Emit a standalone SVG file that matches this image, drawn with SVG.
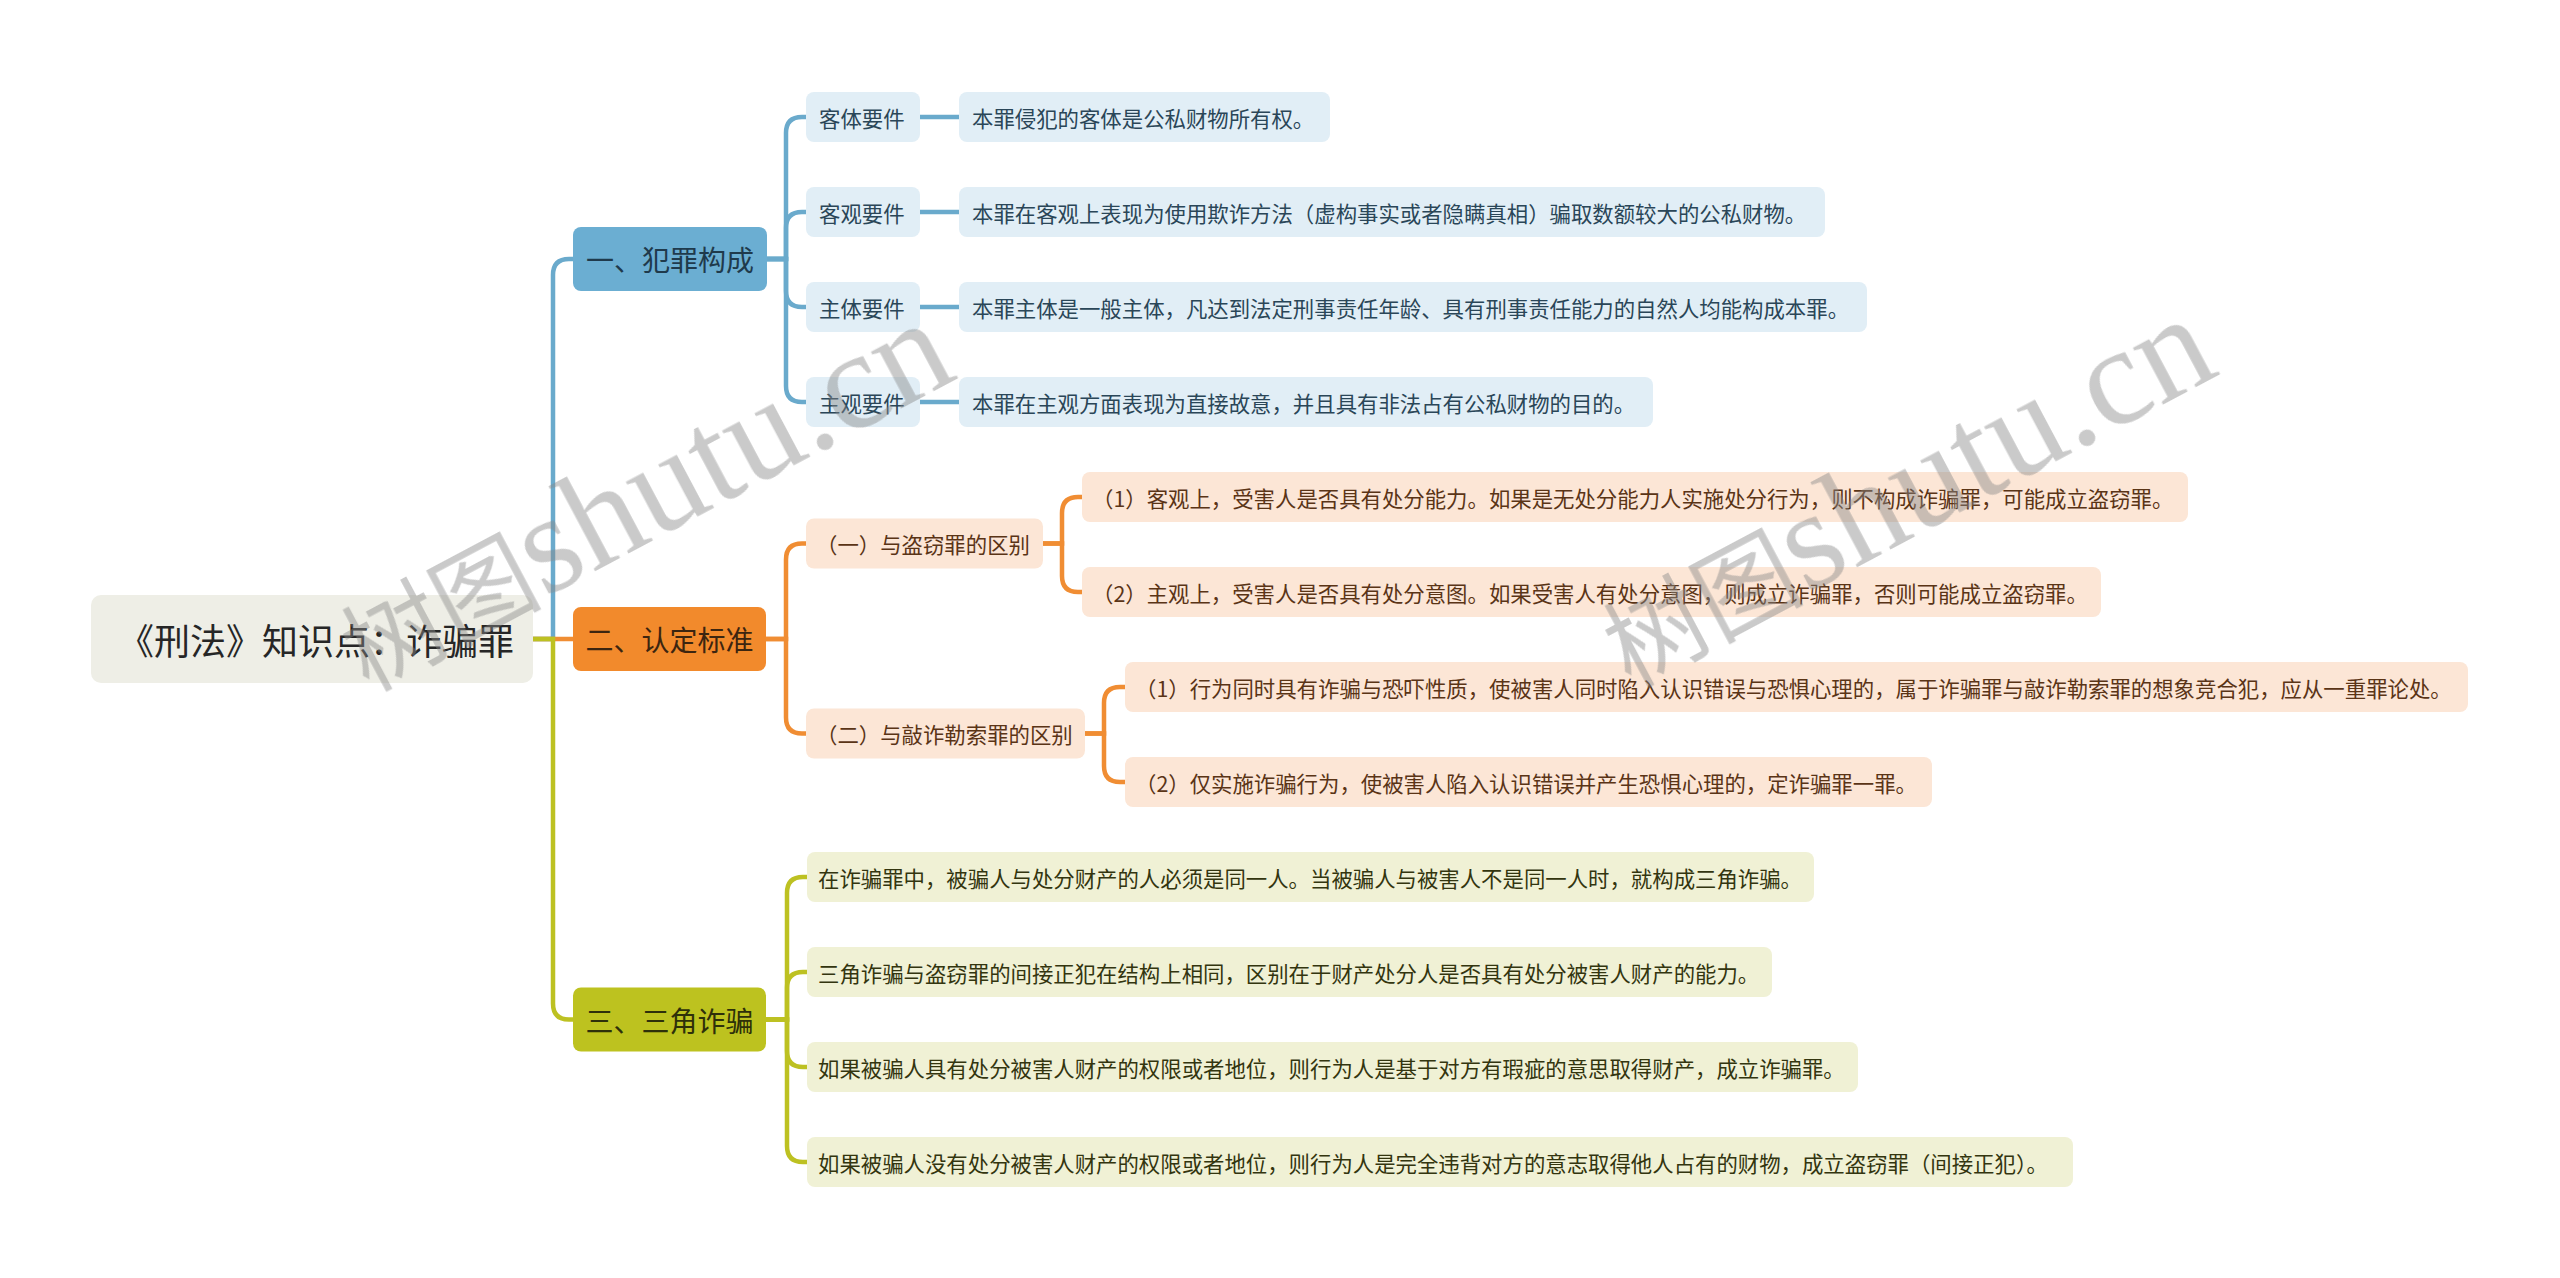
<svg xmlns="http://www.w3.org/2000/svg" width="2560" height="1278" viewBox="0 0 2560 1278">
<style>
text{font-family:"Noto Sans CJK SC","Microsoft YaHei",sans-serif;dominant-baseline:central}
.root rect{fill:#EEEEE6}
.root text{font-size:36px;fill:#262626;text-anchor:middle}
.main text{font-size:28px;text-anchor:middle}
.leaf text{font-size:21.4px}
.b .box{fill:#6BAED2}.b text{fill:#1F3A4C}
.o .box{fill:#F28A2C}.o text{fill:#3C2510}
.g .box{fill:#BDC21F}.g text{fill:#2E300A}
.lb rect{fill:#E1EEF6}.lb text{fill:#2A4658}
.lo rect{fill:#FCE6D6}.lo text{fill:#5A3416}
.lg rect{fill:#F0F1D5}.lg text{fill:#33350F}
.c path{fill:none;stroke-width:4.5;stroke-linecap:butt}
.cb path{stroke:#6AAACC}
.co path{stroke:#F08D33}
.cg path{stroke:#BDC122}
.wm{fill:#8a8a8a;opacity:0.45}
</style>

<g id="connectors" class="c">
<g class="cb">
<path d="M533,639 H553 V275 Q553,259 569,259 H573"/>
<path d="M767,259 H786 V133 Q786,117 802,117 H806"/>
<path d="M767,259 H786 V228 Q786,212 802,212 H806"/>
<path d="M767,259 H786 V291 Q786,307 802,307 H806"/>
<path d="M767,259 H786 V386 Q786,402 802,402 H806"/>
<path d="M920,117 H959"/>
<path d="M920,212 H959"/>
<path d="M920,307 H959"/>
<path d="M920,402 H959"/>
</g>
<g class="co">
<path d="M533,639 H573"/>
<path d="M766,639 H786 V559.5 Q786,543.5 802,543.5 H806"/>
<path d="M766,639 H786 V717.5 Q786,733.5 802,733.5 H806"/>
<path d="M1043,543.5 H1062 V513 Q1062,497 1078,497 H1082"/>
<path d="M1043,543.5 H1062 V576 Q1062,592 1078,592 H1082"/>
<path d="M1085,733.5 H1104 V703 Q1104,687 1120,687 H1125"/>
<path d="M1085,733.5 H1104 V766 Q1104,782 1120,782 H1125"/>
</g>
<g class="cg">
<path d="M533,639 H553 V1003.5 Q553,1019.5 569,1019.5 H573"/>
<path d="M766,1019.5 H787 V893 Q787,877 803,877 H807"/>
<path d="M766,1019.5 H787 V988 Q787,972 803,972 H807"/>
<path d="M766,1019.5 H787 V1051 Q787,1067 803,1067 H807"/>
<path d="M766,1019.5 H787 V1146 Q787,1162 803,1162 H807"/>
</g>
</g>

<g id="root" class="root"><rect x="91" y="595" width="442" height="88" rx="10"/><text x="316" y="639">《刑法》知识点：诈骗罪</text></g>

<g id="m1" class="main b"><rect class="box" x="573" y="227" width="194" height="64" rx="8"/><text x="670" y="259">一、犯罪构成</text></g>
<g id="m2" class="main o"><rect class="box" x="573" y="607" width="193" height="64" rx="8"/><text x="669.5" y="639">二、认定标准</text></g>
<g id="m3" class="main g"><rect class="box" x="573" y="987.5" width="193" height="64" rx="8"/><text x="669.5" y="1019.5">三、三角诈骗</text></g>

<g id="b1" class="leaf lb"><rect x="806" y="92" width="114" height="50" rx="8"/><text x="819" y="117">客体要件</text></g>
<g id="b2" class="leaf lb"><rect x="806" y="187" width="114" height="50" rx="8"/><text x="819" y="212">客观要件</text></g>
<g id="b3" class="leaf lb"><rect x="806" y="282" width="114" height="50" rx="8"/><text x="819" y="307">主体要件</text></g>
<g id="b4" class="leaf lb"><rect x="806" y="377" width="114" height="50" rx="8"/><text x="819" y="402">主观要件</text></g>

<g id="b1a" class="leaf lb"><rect x="959" y="92" width="371" height="50" rx="8"/><text x="972" y="117">本罪侵犯的客体是公私财物所有权。</text></g>
<g id="b2a" class="leaf lb"><rect x="959" y="187" width="866" height="50" rx="8"/><text x="972" y="212">本罪在客观上表现为使用欺诈方法（虚构事实或者隐瞒真相）骗取数额较大的公私财物。</text></g>
<g id="b3a" class="leaf lb"><rect x="959" y="282" width="908" height="50" rx="8"/><text x="972" y="307">本罪主体是一般主体，凡达到法定刑事责任年龄、具有刑事责任能力的自然人均能构成本罪。</text></g>
<g id="b4a" class="leaf lb"><rect x="959" y="377" width="694" height="50" rx="8"/><text x="972" y="402">本罪在主观方面表现为直接故意，并且具有非法占有公私财物的目的。</text></g>

<g id="o1" class="leaf lo"><rect x="806" y="518.5" width="237" height="50" rx="8"/><text x="816" y="543.5">（一）与盗窃罪的区别</text></g>
<g id="o2" class="leaf lo"><rect x="806" y="708.5" width="279" height="50" rx="8"/><text x="816" y="733.5">（二）与敲诈勒索罪的区别</text></g>

<g id="o1a" class="leaf lo"><rect x="1082" y="472" width="1106" height="50" rx="8"/><text x="1092" y="497">（1）客观上，受害人是否具有处分能力。如果是无处分能力人实施处分行为，则不构成诈骗罪，可能成立盗窃罪。</text></g>
<g id="o1b" class="leaf lo"><rect x="1082" y="567" width="1019" height="50" rx="8"/><text x="1092" y="592">（2）主观上，受害人是否具有处分意图。如果受害人有处分意图，则成立诈骗罪，否则可能成立盗窃罪。</text></g>
<g id="o2a" class="leaf lo"><rect x="1125" y="662" width="1343" height="50" rx="8"/><text x="1135" y="687">（1）行为同时具有诈骗与恐吓性质，使被害人同时陷入认识错误与恐惧心理的，属于诈骗罪与敲诈勒索罪的想象竞合犯，应从一重罪论处。</text></g>
<g id="o2b" class="leaf lo"><rect x="1125" y="757" width="807" height="50" rx="8"/><text x="1135" y="782">（2）仅实施诈骗行为，使被害人陷入认识错误并产生恐惧心理的，定诈骗罪一罪。</text></g>

<g id="g1" class="leaf lg"><rect x="807" y="852" width="1007" height="50" rx="8"/><text x="818" y="877">在诈骗罪中，被骗人与处分财产的人必须是同一人。当被骗人与被害人不是同一人时，就构成三角诈骗。</text></g>
<g id="g2" class="leaf lg"><rect x="807" y="947" width="965" height="50" rx="8"/><text x="818" y="972">三角诈骗与盗窃罪的间接正犯在结构上相同，区别在于财产处分人是否具有处分被害人财产的能力。</text></g>
<g id="g3" class="leaf lg"><rect x="807" y="1042" width="1051" height="50" rx="8"/><text x="818" y="1067">如果被骗人具有处分被害人财产的权限或者地位，则行为人是基于对方有瑕疵的意思取得财产，成立诈骗罪。</text></g>
<g id="g4" class="leaf lg"><rect x="807" y="1137" width="1266" height="50" rx="8"/><text x="818" y="1162">如果被骗人没有处分被害人财产的权限或者地位，则行为人是完全违背对方的意志取得他人占有的财物，成立盗窃罪（间接正犯）。</text></g>

<g id="watermarks" class="wm">
<text transform="translate(368,692) rotate(-28)" style="dominant-baseline:alphabetic"><tspan style="font-size:100px">树图</tspan><tspan style="font-family:'Liberation Serif',serif;font-size:140px">shutu.cn</tspan></text>
<text transform="translate(1630,688) rotate(-28)" style="dominant-baseline:alphabetic"><tspan style="font-size:100px">树图</tspan><tspan style="font-family:'Liberation Serif',serif;font-size:140px">shutu.cn</tspan></text>
</g>
</svg>
